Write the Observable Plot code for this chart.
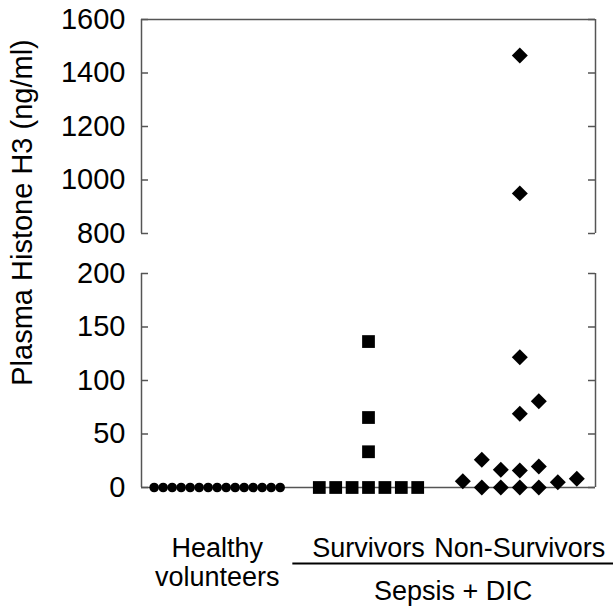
<!DOCTYPE html>
<html>
<head>
<meta charset="utf-8">
<script src="https://cdn.jsdelivr.net/npm/d3@7"></script>
<script src="https://cdn.jsdelivr.net/npm/@observablehq/plot@0.6"></script>
<style>
  html, body { margin: 0; padding: 0; background: #fff; }
</style>
</head>
<body>
<div id="chart"></div>
<script>
// ---- data ----
const categories = ["Healthy\nvolunteers", "Survivors", "Non-Survivors"];
const groupLabel = "Sepsis + DIC";
const yTitle = "Plasma Histone H3 (ng/ml)";
const healthy = [0, 0, 0, 0, 0, 0, 0, 0, 0, 0, 0, 0, 0, 0, 0];
const survivors = [0, 0, 0, 0, 0, 0, 0, 33.4, 65.4, 136.4];
const nonSurvivors = [5.9, 0, 0, 0, 0, 5.0, 8.1, 25.9, 16.5, 15.9, 19.6, 68.9, 80.7, 121.8, 950, 1465];
const lowerTicks = [0, 50, 100, 150, 200];
const upperTicks = [800, 1000, 1200, 1400, 1600];
const breakDomain = [0, 200, 800, 1600];

// ---- layout constants ----
const W = 615, H = 606;
const mL = 141, mR = 20, mT = 19;
const panelH = 214, gap = 40;
const yBottom = mT + panelH + gap + panelH;
const mB = H - yBottom;
const unit = (W - mL - mR) / 3;          // px per category
const tickLen = 7;
const axisColor = "#555";

// Prism-like column scatter: grid slots, nearest to centre, avoiding vertical overlap
function arrange(values, gi, spacingPx, symbolPx) {
  const tol = symbolPx / (panelH / 200);
  const order = values.map((v, i) => i).sort((a, b) => values[a] - values[b] || a - b);
  const placed = [];
  let left = 0, right = 0;
  const out = [];
  for (const i of order) {
    const v = values[i];
    const free = s => !placed.some(p => p.slot === s && Math.abs(p.v - v) < tol);
    let slot = 0;
    if (!free(0)) {
      for (let d = 1; ; d++) {
        const l = free(-d), r = free(d);
        if (l && r) { slot = right < left ? d : -d; break; }
        if (l) { slot = -d; break; }
        if (r) { slot = d; break; }
      }
    }
    if (slot < 0) left++; else if (slot > 0) right++;
    placed.push({slot, v});
    out.push({value: v, x: gi + 0.5 + slot * spacingPx / unit});
  }
  return out;
}

const ptsH = arrange(healthy, 0, 9, 9.6);
const ptsS = arrange(survivors, 1, 16.4, 13);
const ptsN = arrange(nonSurvivors, 2, 19, 16);

const allTicks = [...lowerTicks, ...upperTicks];
const lineEnd = 3 + 18 / unit;

const chart = Plot.plot({
  width: W,
  height: H,
  marginLeft: mL,
  marginRight: mR,
  marginTop: mT,
  marginBottom: mB,
  style: {fontFamily: '"Liberation Sans", Arial, sans-serif', fontSize: "27px", color: "#000", background: "#fff"},
  x: {type: "linear", domain: [0, 3], axis: null},
  y: {type: "linear", domain: breakDomain, range: [yBottom, mT + panelH + gap, mT + panelH, mT], axis: null},
  marks: [
    // frame pieces
    Plot.ruleX([0, 3], {y1: breakDomain[0], y2: breakDomain[1], stroke: axisColor, strokeWidth: 1.5}),
    Plot.ruleX([0, 3], {y1: breakDomain[2], y2: breakDomain[3], stroke: axisColor, strokeWidth: 1.5}),
    Plot.ruleY([breakDomain[3]], {x1: 0, x2: 3, stroke: axisColor, strokeWidth: 1.5}),
    Plot.ruleY([breakDomain[0]], {x1: 0, x2: 3, stroke: axisColor, strokeWidth: 1.5}),
    // inward ticks, both sides
    Plot.ruleY(allTicks, {x1: 0, x2: tickLen / unit, stroke: axisColor, strokeWidth: 1.5}),
    Plot.ruleY(allTicks, {x1: 3 - tickLen / unit, x2: 3, stroke: axisColor, strokeWidth: 1.5}),
    // tick labels
    Plot.axisY(allTicks, {anchor: "left", tickSize: 0, tickPadding: 16, fontSize: 29, tickFormat: d => String(d), label: null}),
    // data
    Plot.dot(ptsH, {x: "x", y: "value", r: 4.8, symbol: "circle", fill: "#000", stroke: "none"}),
    Plot.dot(ptsS, {x: "x", y: "value", r: 7.2, symbol: "square", fill: "#000", stroke: "none"}),
    Plot.dot(ptsN, {x: "x", y: "value", r: 7.2, symbol: "diamond2", fill: "#000", stroke: "none"}),
    // category labels
    Plot.text(categories, {x: (d, i) => i + 0.5, text: d => d, frameAnchor: "bottom", dy: 48, lineAnchor: "top", textAnchor: "middle", fontSize: 27, lineHeight: 1.1, fill: "#000"}),
    Plot.ruleY([0], {x1: 1, x2: lineEnd, dy: 76, stroke: "#000", strokeWidth: 2}),
    Plot.text([groupLabel], {x: (1 + lineEnd) / 2, text: d => d, frameAnchor: "bottom", dy: 93, lineAnchor: "top", textAnchor: "middle", fontSize: 27, fill: "#000"}),
    // y title
    Plot.text([yTitle], {text: d => d, frameAnchor: "left", dx: -119, dy: -41, rotate: -90, textAnchor: "middle", lineAnchor: "middle", fontSize: 29, fill: "#000"})
  ]
});
document.getElementById("chart").appendChild(chart);
</script>
</body>
</html>
